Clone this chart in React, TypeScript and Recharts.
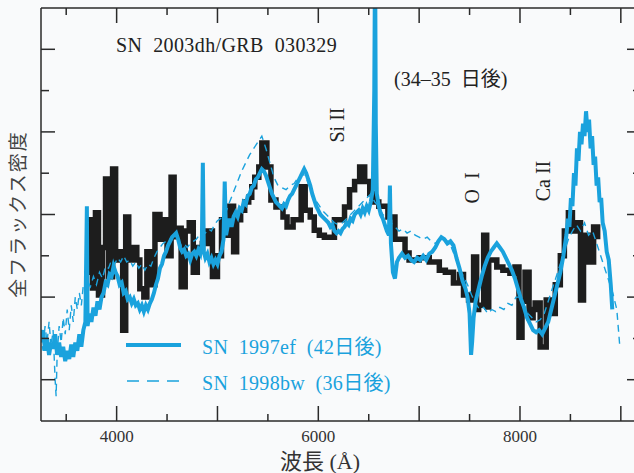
import React from 'react';
import { LineChart, Line, XAxis, YAxis } from 'recharts';

const BLUE = '#1aa2dd';
const BLACK = '#1d1d1d';
const AXIS = '#2a2a2a';
const BG = '#f9fafb';
const SERIF = '"Liberation Serif", "Times New Roman", "Noto Sans CJK JP", serif';

const xDomain: [number, number] = [3250, 9200];
const yDomain: [number, number] = [0, 10];
const xTicks = [3500, 4000, 4500, 5000, 5500, 6000, 6500, 7000, 7500, 8000, 8500, 9000];
const xLabelTicks = [4000, 6000, 8000];
const yTicks = [1, 2, 3, 4, 5, 6, 7, 8, 9];

// SN 2003dh (binned, black step spectrum): [wavelength Å, flux]
const sn2003dh: [number, number][] = [
  [3700, 3.6], [3740, 4.87], [3760, 3.22], [3790, 5.04], [3820, 3.05], [3860, 4.2], [3890, 5.86],
  [3920, 3.49], [3960, 6.1], [3990, 3.9], [4030, 4.1], [4060, 2.2], [4090, 4.94], [4120, 3.9],
  [4160, 4.2], [4200, 3.9], [4230, 3.2], [4270, 3.0], [4300, 4.1], [4340, 3.3], [4380, 5.0],
  [4430, 4.4], [4460, 4.87], [4500, 4.0], [4540, 5.9], [4570, 4.46], [4600, 4.67], [4640, 3.25],
  [4680, 4.6], [4720, 4.8], [4760, 3.6], [4800, 4.2], [4850, 4.3], [4900, 4.6], [4950, 3.5],
  [5000, 4.0], [5040, 4.87], [5080, 4.5], [5120, 5.2], [5160, 4.1], [5190, 4.87], [5230, 5.1],
  [5270, 5.3], [5310, 5.42], [5340, 5.67], [5370, 5.9], [5410, 6.15], [5440, 6.73], [5490, 6.15],
  [5530, 5.35], [5580, 5.18], [5650, 4.94], [5690, 4.7], [5750, 4.87], [5830, 5.67], [5870, 5.1],
  [5920, 4.94], [5960, 4.62], [6010, 4.5], [6060, 4.45], [6160, 4.87], [6260, 5.18], [6310, 5.6],
  [6360, 5.8], [6410, 6.15], [6460, 5.8], [6510, 5.5], [6560, 5.3], [6600, 5.2], [6690, 4.94],
  [6760, 4.4], [6860, 4.07], [6900, 3.9], [7000, 3.95], [7100, 3.85], [7200, 3.65], [7260, 3.6],
  [7340, 3.34], [7400, 3.55], [7440, 3.05], [7490, 2.93], [7540, 3.97], [7570, 2.7], [7590, 2.8],
  [7640, 4.5], [7670, 2.76], [7690, 3.9], [7770, 3.73], [7830, 3.65], [7900, 3.58], [7950, 3.73],
  [7990, 2.03], [8020, 2.9], [8050, 3.6], [8090, 2.5], [8130, 2.7], [8150, 2.86], [8200, 1.79],
  [8260, 2.93], [8310, 2.6], [8350, 3.3], [8400, 4.0], [8440, 4.6], [8480, 5.04], [8520, 4.6],
  [8560, 4.8], [8600, 2.93], [8630, 4.5], [8680, 3.85], [8730, 4.7], [8770, 4.4],
];

// SN 1997ef, 42 days (solid blue)
const sn1997ef: [number, number][] = [
  [3250, 1.9], [3270, 2.2], [3290, 1.7], [3310, 2.0], [3330, 1.6], [3350, 1.9], [3370, 1.75],
  [3390, 2.1], [3410, 1.6], [3430, 1.9], [3450, 1.55], [3470, 1.8], [3490, 1.45], [3510, 1.7],
  [3530, 1.5], [3550, 1.85], [3570, 1.55], [3590, 1.9], [3610, 1.7], [3630, 2.1], [3650, 1.8],
  [3670, 2.2], [3690, 2.4], [3705, 5.2], [3712, 2.3], [3730, 2.6], [3750, 2.4], [3770, 2.75],
  [3790, 2.55], [3810, 2.9], [3830, 2.7], [3850, 3.0], [3870, 3.1], [3890, 3.35], [3910, 3.3],
  [3930, 3.55], [3950, 3.5], [3970, 3.75], [3990, 3.6], [4010, 3.5], [4030, 3.3], [4050, 3.35],
  [4070, 3.1], [4090, 3.15], [4110, 2.95], [4130, 3.0], [4150, 2.85], [4170, 2.95], [4190, 2.8],
  [4210, 2.85], [4230, 2.7], [4250, 2.8], [4270, 2.65], [4290, 2.8], [4310, 2.7], [4330, 2.85],
  [4350, 2.95], [4370, 3.1], [4390, 3.3], [4410, 3.45], [4430, 3.7], [4450, 3.8], [4470, 4.0],
  [4490, 4.1], [4510, 4.25], [4530, 4.35], [4550, 4.45], [4570, 4.5], [4590, 4.55], [4610, 4.4],
  [4630, 4.2], [4650, 4.1], [4670, 4.15], [4690, 4.0], [4710, 4.05], [4730, 3.9], [4750, 4.05],
  [4770, 4.1], [4790, 4.0], [4810, 4.15], [4830, 4.05], [4845, 4.3], [4855, 6.25], [4865, 4.1],
  [4880, 3.95], [4900, 4.05], [4920, 3.85], [4940, 3.95], [4960, 3.8], [4980, 3.9], [5000, 3.8],
  [5020, 4.0], [5040, 4.1], [5060, 4.4], [5072, 5.8], [5085, 4.5], [5100, 4.7], [5120, 4.9],
  [5140, 4.7], [5160, 4.95], [5180, 5.05], [5200, 4.95], [5220, 5.15], [5240, 5.1], [5260, 5.3],
  [5280, 5.25], [5300, 5.45], [5320, 5.5], [5340, 5.65], [5360, 5.7], [5380, 5.85], [5400, 5.9],
  [5420, 6.0], [5440, 6.1], [5460, 6.05], [5480, 5.95], [5500, 5.8], [5520, 5.65], [5540, 5.5],
  [5560, 5.4], [5580, 5.3], [5600, 5.25], [5620, 5.2], [5640, 5.15], [5660, 5.25], [5680, 5.2],
  [5700, 5.35], [5720, 5.45], [5740, 5.5], [5760, 5.6], [5780, 5.7], [5800, 5.8], [5820, 5.9],
  [5840, 6.0], [5860, 6.1], [5880, 6.0], [5900, 5.85], [5920, 5.7], [5940, 5.5], [5960, 5.35],
  [5980, 5.2], [6000, 5.1], [6020, 5.0], [6040, 4.95], [6060, 4.9], [6080, 4.85], [6100, 4.8],
  [6120, 4.7], [6140, 4.75], [6160, 4.6], [6180, 4.55], [6200, 4.6], [6220, 4.55], [6240, 4.65],
  [6260, 4.7], [6280, 4.8], [6300, 4.75], [6320, 4.9], [6340, 4.85], [6360, 5.0], [6380, 5.05],
  [6400, 5.1], [6420, 5.0], [6440, 5.15], [6460, 5.05], [6480, 5.2], [6500, 5.1], [6520, 5.3],
  [6540, 5.6], [6555, 8.0], [6563, 11.5], [6570, 7.2], [6580, 5.5], [6600, 5.2], [6620, 5.0],
  [6640, 4.9], [6660, 4.75], [6680, 4.6], [6700, 4.5], [6710, 5.7], [6720, 4.3], [6740, 3.6],
  [6760, 3.45], [6780, 3.85], [6800, 3.95], [6830, 4.05], [6860, 3.95], [6890, 4.0], [6920, 3.9],
  [6950, 3.85], [6980, 3.95], [7010, 3.9], [7040, 4.0], [7070, 3.9], [7100, 4.05], [7130, 4.1],
  [7160, 4.2], [7190, 4.35], [7220, 4.45], [7250, 4.4], [7280, 4.3], [7310, 4.35], [7340, 4.25],
  [7370, 3.95], [7400, 3.7], [7430, 3.4], [7460, 3.2], [7480, 3.0], [7500, 2.6], [7515, 1.6],
  [7525, 1.9], [7540, 2.5], [7560, 2.9], [7590, 3.2], [7620, 3.5], [7650, 3.75], [7680, 3.95],
  [7710, 4.1], [7740, 4.2], [7770, 4.3], [7800, 4.2], [7830, 4.1], [7860, 3.95], [7890, 3.8],
  [7920, 3.65], [7950, 3.45], [7980, 3.2], [8010, 2.95], [8040, 2.75], [8070, 2.5], [8100, 2.35],
  [8130, 2.2], [8160, 2.15], [8190, 2.2], [8220, 2.1], [8250, 2.25], [8280, 2.4], [8310, 2.7],
  [8340, 3.0], [8370, 3.3], [8400, 3.6], [8430, 4.0], [8460, 4.5], [8475, 4.9], [8490, 4.7],
  [8505, 5.4], [8520, 5.2], [8535, 6.0], [8550, 5.7], [8565, 6.6], [8580, 6.3], [8595, 7.0],
  [8610, 6.7], [8625, 7.2], [8640, 6.9], [8655, 7.5], [8670, 7.0], [8685, 7.3], [8700, 6.6],
  [8715, 6.9], [8730, 6.2], [8745, 6.4], [8760, 5.7], [8775, 5.9], [8790, 5.3], [8805, 5.4],
  [8820, 4.8], [8840, 4.6], [8860, 4.1], [8880, 3.9], [8900, 3.3], [8915, 2.7],
];

// SN 1998bw, 36 days (dashed blue)
const sn1998bw: [number, number][] = [
  [3250, 2.1], [3270, 1.7], [3290, 2.3], [3310, 1.9], [3330, 2.4], [3350, 1.8], [3370, 2.2],
  [3390, 1.0], [3400, 0.6], [3410, 1.6], [3430, 2.3], [3450, 1.9], [3470, 2.5], [3490, 2.1],
  [3510, 2.7], [3530, 2.2], [3550, 2.8], [3570, 2.4], [3590, 3.0], [3610, 2.7], [3630, 3.1],
  [3650, 2.8], [3670, 3.3], [3690, 3.2], [3710, 3.4], [3740, 3.25], [3770, 3.5], [3800, 3.3],
  [3830, 3.6], [3860, 3.45], [3890, 3.75], [3920, 3.7], [3950, 3.9], [3980, 3.8], [4010, 3.95],
  [4040, 3.85], [4070, 4.0], [4100, 3.85], [4130, 3.9], [4160, 3.75], [4190, 3.85], [4220, 3.7],
  [4250, 3.8], [4280, 3.65], [4310, 3.8], [4340, 3.75], [4370, 3.95], [4400, 4.1], [4430, 4.2],
  [4460, 4.3], [4490, 4.35], [4520, 4.4], [4550, 4.45], [4580, 4.5], [4610, 4.4], [4640, 4.25],
  [4670, 4.3], [4700, 4.2], [4730, 4.3], [4760, 4.35], [4790, 4.4], [4820, 4.5], [4850, 4.6],
  [4880, 4.55], [4910, 4.65], [4940, 4.6], [4970, 4.75], [5000, 4.85], [5030, 4.9], [5060, 5.0],
  [5090, 5.1], [5120, 5.3], [5160, 5.55], [5200, 5.8], [5240, 6.05], [5280, 6.25], [5320, 6.45],
  [5360, 6.6], [5400, 6.75], [5440, 6.9], [5480, 6.6], [5520, 6.25], [5560, 5.9], [5600, 5.7],
  [5640, 5.65], [5680, 5.6], [5720, 5.7], [5760, 5.75], [5800, 5.9], [5840, 6.0], [5880, 5.9],
  [5920, 5.6], [5960, 5.4], [6000, 5.25], [6040, 5.1], [6080, 5.0], [6120, 4.9], [6160, 4.8],
  [6200, 4.75], [6240, 4.8], [6280, 4.9], [6320, 5.0], [6360, 5.1], [6400, 5.2], [6440, 5.3],
  [6480, 5.4], [6520, 5.5], [6560, 5.3], [6600, 5.2], [6640, 5.0], [6680, 4.9], [6720, 4.8],
  [6760, 4.7], [6800, 4.6], [6840, 4.65], [6880, 4.55], [6920, 4.6], [6960, 4.5], [7000, 4.45],
  [7040, 4.4], [7080, 4.45], [7120, 4.35], [7160, 4.3], [7200, 4.4], [7240, 4.45], [7280, 4.35],
  [7320, 4.2], [7360, 3.95], [7400, 3.7], [7440, 3.5], [7480, 3.3], [7520, 3.05], [7560, 2.85],
  [7600, 2.7], [7640, 2.75], [7680, 2.6], [7720, 2.7], [7760, 2.65], [7800, 2.75], [7840, 2.7],
  [7880, 2.85], [7920, 2.8], [7960, 3.0], [8000, 3.0], [8040, 2.8], [8080, 2.6], [8120, 2.5],
  [8160, 2.4], [8200, 2.45], [8240, 2.6], [8280, 2.9], [8320, 3.2], [8360, 3.5], [8400, 3.8],
  [8440, 4.1], [8480, 4.4], [8520, 4.6], [8560, 4.75], [8600, 4.6], [8640, 4.8], [8680, 4.5],
  [8720, 4.6], [8760, 4.3], [8800, 4.0], [8840, 3.7], [8880, 3.4], [8920, 3.1], [8960, 2.7],
  [8990, 1.8],
];

const toRows = (pts: [number, number][]) => pts.map(([w, f]) => ({ w, f }));

const BottomTick = (props: any) => {
  const { x, y, payload } = props;
  const v = payload.value as number;
  const len = v % 1000 === 0 ? 15 : 7;
  return (
    <g>
      <line x1={x} x2={x} y1={y} y2={y - len} stroke={AXIS} strokeWidth={1.5} />
      {xLabelTicks.includes(v) && (
        <text x={x} y={y + 21} textAnchor="middle" fontSize={17} fontFamily={SERIF} fill="#333">
          {v}
        </text>
      )}
    </g>
  );
};

const TopTick = (props: any) => {
  const { x, y, payload } = props;
  const len = payload.value % 1000 === 0 ? 15 : 7;
  return <line x1={x} x2={x} y1={y} y2={y + len} stroke={AXIS} strokeWidth={1.5} />;
};

const LeftTick = (props: any) => {
  const { x, y, payload } = props;
  const len = payload.value % 2 === 1 ? 14 : 8;
  return <line x1={x} x2={x + len} y1={y} y2={y} stroke={AXIS} strokeWidth={1.5} />;
};

const RightTick = (props: any) => {
  const { x, y, payload } = props;
  const len = payload.value % 2 === 1 ? 14 : 8;
  return <line x1={x} x2={x - len} y1={y} y2={y} stroke={AXIS} strokeWidth={1.5} />;
};

const axisLine = { stroke: AXIS, strokeWidth: 1.5 };

export default function App() {
  return (
    <div
      style={{
        position: 'absolute',
        left: 0,
        top: 0,
        width: 634,
        height: 473,
        overflow: 'hidden',
        background: BG,
      }}
    >
      <LineChart width={650} height={473} margin={{ top: 8, right: 9, bottom: 0, left: 41 }}>
        <XAxis
          xAxisId="b"
          dataKey="w"
          type="number"
          domain={xDomain}
          allowDataOverflow
          ticks={xTicks}
          interval={0}
          height={52}
          tickSize={0}
          tickMargin={0}
          tickLine={false}
          axisLine={axisLine}
          tick={<BottomTick />}
        />
        <XAxis
          xAxisId="t"
          orientation="top"
          mirror
          dataKey="w"
          type="number"
          domain={xDomain}
          allowDataOverflow
          ticks={xTicks}
          interval={0}
          tickSize={0}
          tickMargin={0}
          tickLine={false}
          axisLine={axisLine}
          tick={<TopTick />}
        />
        <YAxis
          yAxisId="l"
          mirror
          type="number"
          domain={yDomain}
          allowDataOverflow
          ticks={yTicks}
          interval={0}
          tickSize={0}
          tickMargin={0}
          tickLine={false}
          axisLine={axisLine}
          tick={<LeftTick />}
        />
        <YAxis
          yAxisId="r"
          orientation="right"
          mirror
          type="number"
          domain={yDomain}
          allowDataOverflow
          ticks={yTicks}
          interval={0}
          tickSize={0}
          tickMargin={0}
          tickLine={false}
          axisLine={axisLine}
          tick={<RightTick />}
        />
        <Line
          xAxisId="b"
          yAxisId="l"
          data={toRows(sn2003dh)}
          dataKey="f"
          type="stepAfter"
          stroke={BLACK}
          strokeWidth={5.5}
          dot={false}
          activeDot={false}
          isAnimationActive={false}
        />
        <Line
          xAxisId="b"
          yAxisId="l"
          data={toRows(sn1997ef)}
          dataKey="f"
          type="linear"
          stroke={BLUE}
          strokeWidth={4}
          dot={false}
          activeDot={false}
          isAnimationActive={false}
        />
        <Line
          xAxisId="t"
          yAxisId="r"
          data={toRows(sn1998bw)}
          dataKey="f"
          type="linear"
          stroke={BLUE}
          strokeWidth={1.4}
          strokeDasharray="7 5"
          dot={false}
          activeDot={false}
          isAnimationActive={false}
        />
      </LineChart>
      <svg
        width={634}
        height={473}
        style={{ position: 'absolute', left: 0, top: 0, pointerEvents: 'none' }}
        fontFamily={SERIF}
      >
        <text x={116} y={52} fontSize={20} fill="#222" letterSpacing={0.4} style={{ whiteSpace: 'pre' }}>
          {'SN  2003dh/GRB  030329'}
        </text>
        <text x={394} y={86} fontSize={20} fill="#222" style={{ whiteSpace: 'pre' }}>
          {'(34–35  日後)'}
        </text>
        <text x={0} y={0} fontSize={20} fill="#222" textAnchor="middle" transform="translate(344,125) rotate(-90)" style={{ whiteSpace: 'pre' }}>
          {'Si II'}
        </text>
        <text x={0} y={0} fontSize={20} fill="#222" textAnchor="middle" transform="translate(479,188) rotate(-90)" style={{ whiteSpace: 'pre' }}>
          {'O  I'}
        </text>
        <text x={0} y={0} fontSize={20} fill="#222" textAnchor="middle" transform="translate(550,181) rotate(-90)" style={{ whiteSpace: 'pre' }}>
          {'Ca II'}
        </text>
        <line x1={126} x2={181} y1={345} y2={345} stroke={BLUE} strokeWidth={4} />
        <line x1={127} x2={181} y1={381} y2={381} stroke={BLUE} strokeWidth={1.4} strokeDasharray="12 8" />
        <text x={202} y={354} fontSize={20} fill={BLUE} letterSpacing={0.3} style={{ whiteSpace: 'pre' }}>
          {'SN  1997ef  (42日後)'}
        </text>
        <text x={202} y={390} fontSize={20} fill={BLUE} letterSpacing={0.3} style={{ whiteSpace: 'pre' }}>
          {'SN  1998bw  (36日後)'}
        </text>
        <text x={320} y={469} fontSize={22} fill="#333" textAnchor="middle" style={{ whiteSpace: 'pre' }}>
          {'波長 (Å)'}
        </text>
        <text x={0} y={0} fontSize={19} fill="#444" textAnchor="middle" transform="translate(25,214) rotate(-90)" letterSpacing={2}>
          {'全フラックス密度'}
        </text>
      </svg>
    </div>
  );
}
